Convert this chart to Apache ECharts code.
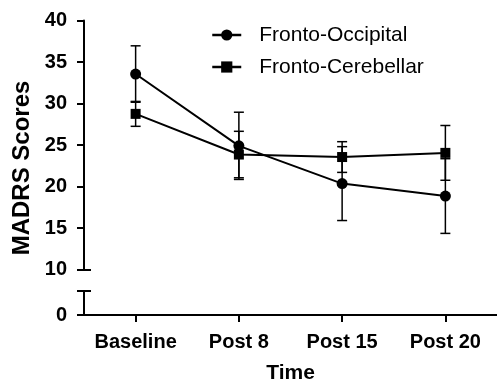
<!DOCTYPE html>
<html>
<head>
<meta charset="utf-8">
<script src="https://cdn.jsdelivr.net/npm/echarts@6/dist/echarts.min.js"></script>
<style>
html,body{margin:0;padding:0;background:#fff;}
#chart{width:497px;height:385px;}
</style>
</head>
<body>
<div id="chart"></div>
<script>
var categories = ['Baseline', 'Post 8', 'Post 15', 'Post 20'];
var occipitalMean = [33.55, 24.9, 20.35, 18.85];
var occipitalErr = [3.4, 4.05, 4.45, 4.5];
var cerebellarMean = [28.75, 23.85, 23.55, 24.05];
var cerebellarErr = [1.5, 2.8, 1.85, 3.3];
var upperTicks = [10, 40, 5];   // min, max, interval
var lowerTicks = [0, 3];

var FONT = '"Liberation Sans", Arial, Helvetica, sans-serif';

function errData(mean, err) {
  return mean.map(function (m, i) { return [i, m - err[i], m + err[i]]; });
}

function errRender(params, api) {
  var x = api.value(0);
  var lo = api.coord([x, api.value(1)]);
  var hi = api.coord([x, api.value(2)]);
  var hw = 5;
  var st = { stroke: '#000', lineWidth: 1.5 };
  return {
    type: 'group',
    children: [
      { type: 'line', shape: { x1: hi[0], y1: hi[1], x2: lo[0], y2: lo[1] }, style: st },
      { type: 'line', shape: { x1: hi[0] - hw, y1: hi[1], x2: hi[0] + hw, y2: hi[1] }, style: st },
      { type: 'line', shape: { x1: lo[0] - hw, y1: lo[1], x2: lo[0] + hw, y2: lo[1] }, style: st }
    ]
  };
}

var chart = echarts.init(document.getElementById('chart'), null, { renderer: 'canvas' });

var axisLineStyle = { color: '#000', width: 2 };

var option = {
  animation: false,
  backgroundColor: '#fff',
  textStyle: { fontFamily: FONT },
  grid: [
    { left: 84, top: 20.5, width: 416, height: 249 },
    { left: 84, top: 291, width: 416, height: 25 }
  ],
  legend: {
    orient: 'vertical',
    left: 211,
    top: 24,
    padding: 0,
    itemWidth: 29,
    itemHeight: 14,
    itemGap: 10,
    data: ['Fronto-Occipital', 'Fronto-Cerebellar'],
    lineStyle: { width: 2.5 },
    textStyle: { fontFamily: FONT, fontSize: 21, color: '#000', padding: [0, 0, 0, 13], lineHeight: 22 }
  },
  xAxis: [
    {
      gridIndex: 0, type: 'category', data: categories, boundaryGap: true,
      axisLine: { show: false }, axisTick: { show: false }, axisLabel: { show: false }, splitLine: { show: false }
    },
    {
      gridIndex: 1, type: 'category', data: categories, boundaryGap: true,
      axisLine: { show: true, lineStyle: axisLineStyle },
      axisTick: { show: true, alignWithLabel: true, interval: 0, length: 7, lineStyle: axisLineStyle },
      axisLabel: { interval: 0, fontFamily: FONT, fontSize: 20, fontWeight: 'bold', color: '#000', margin: 17 },
      name: 'Time', nameLocation: 'middle', nameGap: 48,
      nameTextStyle: { fontFamily: FONT, fontSize: 21, fontWeight: 'bold', color: '#000' }
    }
  ],
  yAxis: [
    {
      gridIndex: 0, type: 'value', min: upperTicks[0], max: upperTicks[1], interval: upperTicks[2],
      axisLine: { show: true, lineStyle: axisLineStyle },
      axisTick: { show: true, length: 7, lineStyle: axisLineStyle },
      axisLabel: { fontFamily: FONT, fontSize: 20, fontWeight: 'bold', color: '#000', margin: 17 },
      splitLine: { show: false }
    },
    {
      gridIndex: 0, type: 'value', min: upperTicks[0], max: upperTicks[1], interval: upperTicks[2],
      position: 'left',
      axisLine: { show: false },
      axisTick: { show: true, inside: true, length: 7, customValues: [upperTicks[0]], lineStyle: axisLineStyle },
      axisLabel: { show: false },
      splitLine: { show: false }
    },
    {
      gridIndex: 1, type: 'value', min: lowerTicks[0], max: lowerTicks[1], interval: lowerTicks[1],
      axisLine: { show: true, lineStyle: axisLineStyle },
      axisTick: { show: true, length: 7, customValues: [lowerTicks[0], lowerTicks[1]], lineStyle: axisLineStyle },
      axisLabel: { fontFamily: FONT, fontSize: 20, fontWeight: 'bold', color: '#000', margin: 17, customValues: [lowerTicks[0]] },
      splitLine: { show: false }
    },
    {
      gridIndex: 1, type: 'value', min: lowerTicks[0], max: lowerTicks[1], interval: lowerTicks[1],
      position: 'left',
      axisLine: { show: false },
      axisTick: { show: true, inside: true, length: 7, customValues: [lowerTicks[1]], lineStyle: axisLineStyle },
      axisLabel: { show: false },
      splitLine: { show: false }
    }
  ],
  graphic: [
    {
      type: 'text', x: 22, y: 168, rotation: Math.PI / 2,
      style: { text: 'MADRS Scores', fontFamily: FONT, fontSize: 24, fontWeight: 'bold', fill: '#000', align: 'center', verticalAlign: 'middle' }
    }
  ],
  series: [
    {
      type: 'custom', name: 'err1', xAxisIndex: 0, yAxisIndex: 0,
      renderItem: errRender, data: errData(occipitalMean, occipitalErr), z: 1, silent: true
    },
    {
      type: 'custom', name: 'err2', xAxisIndex: 0, yAxisIndex: 0,
      renderItem: errRender, data: errData(cerebellarMean, cerebellarErr), z: 1, silent: true
    },
    {
      name: 'Fronto-Occipital', type: 'line', xAxisIndex: 0, yAxisIndex: 0,
      data: occipitalMean, symbol: 'circle', symbolSize: 11, showAllSymbol: true,
      lineStyle: { color: '#000', width: 2 }, itemStyle: { color: '#000' }, z: 3
    },
    {
      name: 'Fronto-Cerebellar', type: 'line', xAxisIndex: 0, yAxisIndex: 0,
      data: cerebellarMean, symbol: 'rect', symbolSize: 10, showAllSymbol: true,
      lineStyle: { color: '#000', width: 2 }, itemStyle: { color: '#000' }, z: 3
    }
  ]
};

chart.setOption(option);
</script>
</body>
</html>
